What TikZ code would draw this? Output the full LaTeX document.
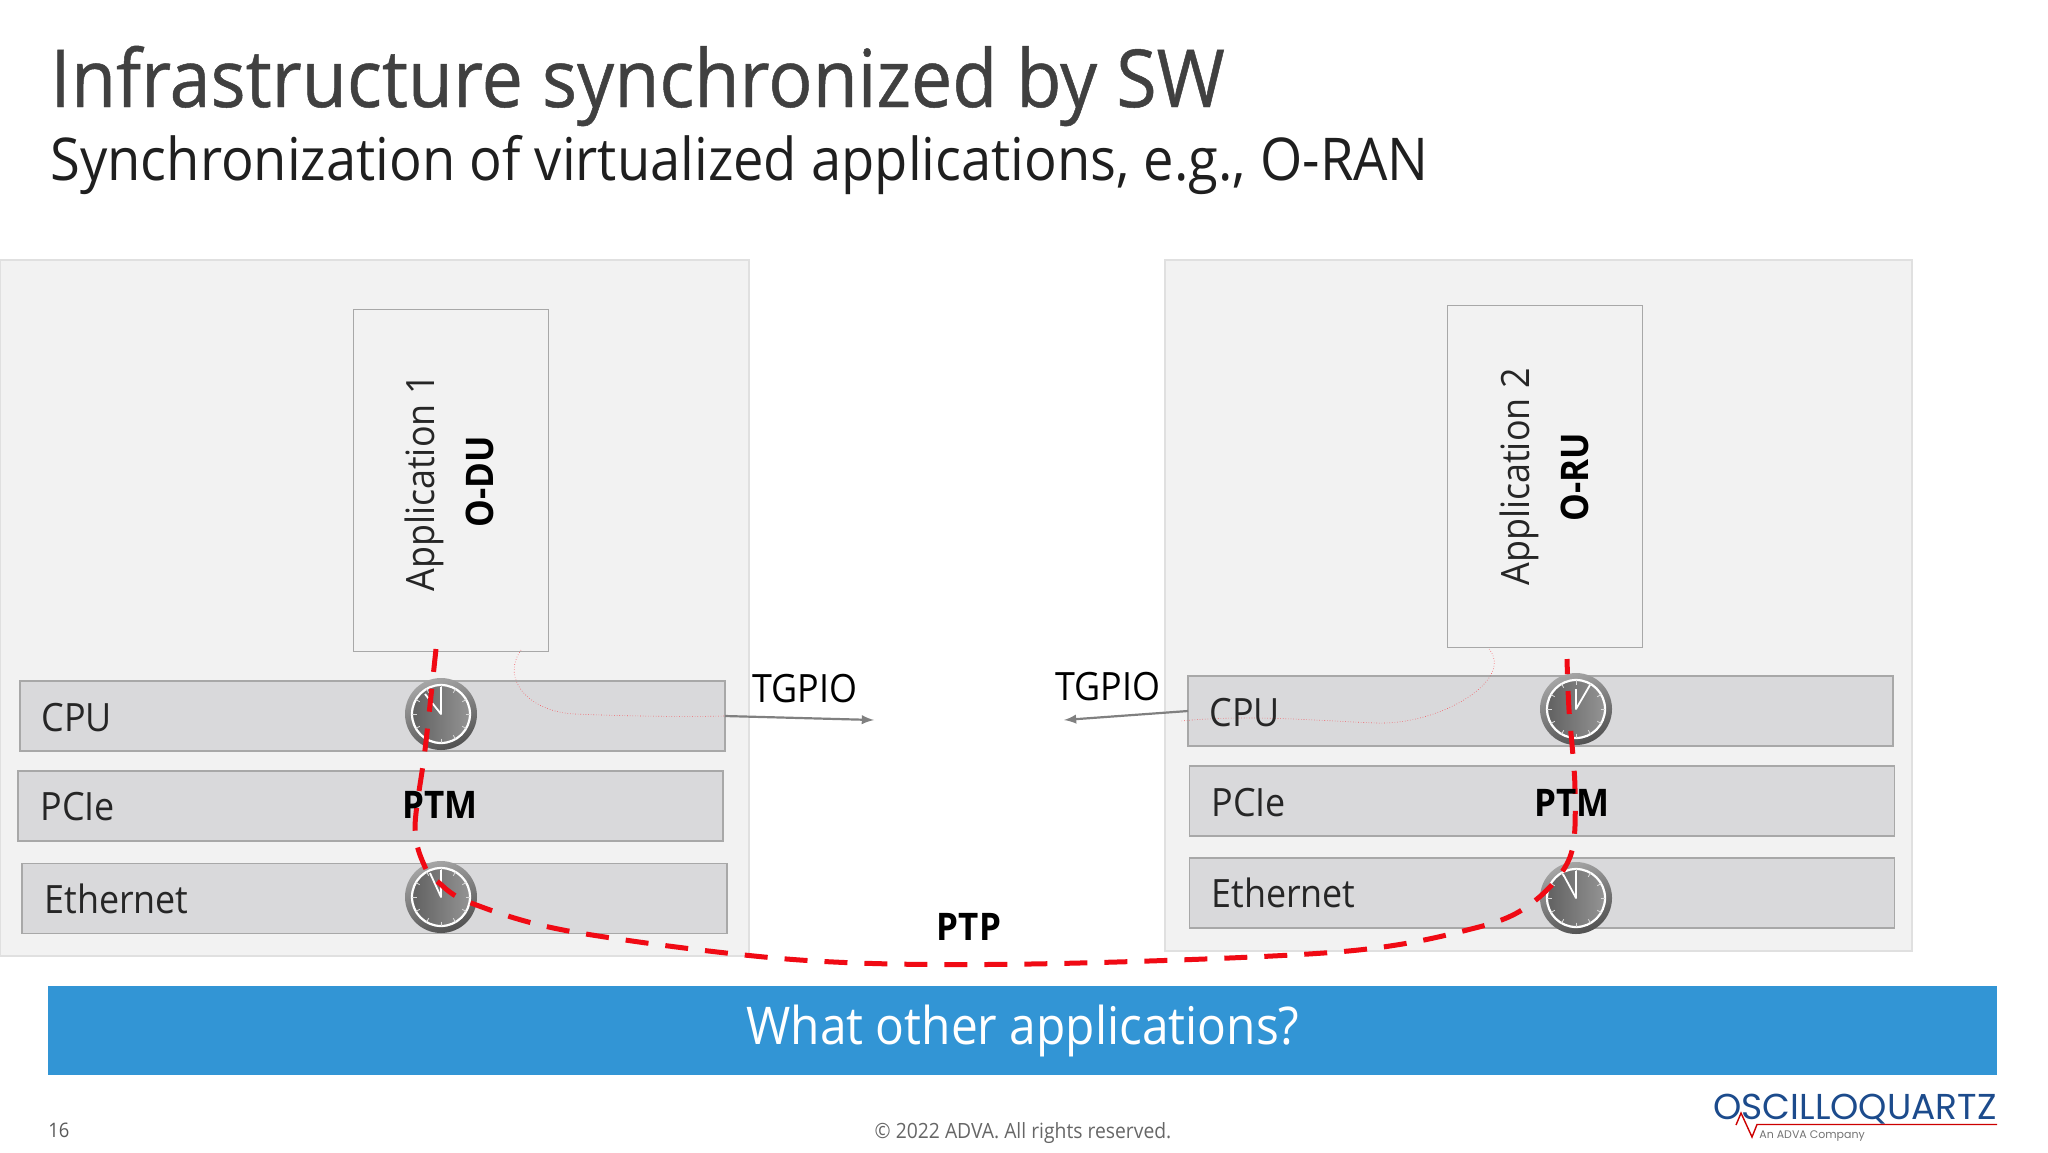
\documentclass[tikz,border=0pt]{standalone}
\usepackage{fontspec}
\setmainfont[FakeStretch=0.92]{Open Sans}
\newfontfamily\semibold[FakeStretch=0.92,FakeBold=0.6]{Open Sans}
\newfontfamily\logofont{Poppins}
\usetikzlibrary{positioning}
\definecolor{panelgray}{HTML}{F2F2F2}
\definecolor{bargray}{HTML}{D9D9DB}
\definecolor{edgegray}{HTML}{A8A8A8}
\definecolor{bannerblue}{HTML}{3295D5}
\definecolor{logoblue}{HTML}{1C4B8C}
\definecolor{ptpred}{HTML}{F00A14}
\tikzset{
    panel/.style={draw=black!12,fill=panelgray,line width=.6pt,inner sep=0pt,outer sep=0pt,
    minimum width=#1,minimum height=347pt},
    appbox/.style={draw=edgegray,fill=panelgray,line width=.5pt,inner sep=0pt,outer sep=0pt,
    minimum width=97.5pt,minimum height=171pt},
    barbox/.style={draw=edgegray,fill=bargray,line width=.7pt,inner sep=0pt,outer sep=0pt,
    minimum width=352.5pt,minimum height=35pt},
    barlabel/.style={anchor=base west,inner sep=0pt,font=\fontsize{19.5}{22}\selectfont,text=black!85},
    boldlabel/.style={anchor=base,inner sep=0pt,font=\fontsize{19}{22}\selectfont\bfseries},
    gpiolabel/.style={anchor=base west,inner sep=0pt,font=\fontsize{19.5}{22}\selectfont},
    applabel/.style={rotate=90,inner sep=0pt,font=\fontsize{19.5}{22}\selectfont,text=black!85},
    ptpline/.style={ptpred,line width=2.5pt,dash pattern=on 11.5pt off 8.5pt},
    tgpioarrow/.style={-latex,draw=black!50,line width=1.1pt},
    tgpioroute/.style={ptpred!70,line width=.3pt,densely dotted},
    clockface/.pic={
        \shade[left color=black!35,right color=black!68,shading angle=20] (0,0) circle (36);
        \shade[left color=black!62,right color=black!42] (0,0) circle (29);
        \draw[white,line width=1.1pt] (0,0) circle (29);
        \foreach \a in {0,30,...,330}
            \draw[white!85!black,line width=.4pt] (\a:24.5)--(\a:29);
        \draw[white,line width=.9pt,line join=round] #1;
    }
}
\begin{document}
\begin{tikzpicture}[x=.5pt,y=-.5pt]
    \useasboundingbox (0,0) rectangle (2048,1152);
    % title
    \node[anchor=base west,inner sep=0pt,text=black!75,font=\semibold\fontsize{40}{44}\selectfont] (title) at (50,107) {Infrastructure synchronized by SW};
    \node[anchor=base west,inner sep=0pt,text=black!88,font=\fontsize{29.5}{34}\selectfont] (subtitle) at (50,180) {Synchronization of virtualized applications, e.g., O-RAN};
    % panels
    \node[panel=374.5pt,anchor=north west,minimum height=348pt] (panelL) at (0,260) {};
    \node[panel=373.5pt,anchor=north west,minimum height=345.5pt] (panelR) at (1165,260) {};
    \node[appbox,anchor=north west] (appL) at (353,309.5) {};
    \node[appbox,anchor=north west] (appR) at (1447,305.5) {};
    % bars
    \node[barbox,anchor=north west] (cpuL) at (20,681) {};
    \node[barbox,anchor=north west] (pcieL) at (18,771) {};
    \node[barbox,anchor=north west] (ethL) at (22,863.5) {};
    \node[barbox,anchor=north west] (cpuR) at (1188,676) {};
    \node[barbox,anchor=north west] (pcieR) at (1189.5,766) {};
    \node[barbox,anchor=north west] (ethR) at (1189.5,858) {};
    % thin routes and arrows
    \coordinate (gpioL) at (521,650);
    \coordinate (gpioR) at (1489,649);
    \coordinate (tipL) at (874,720);
    \coordinate (tipR) at (1064,720);
    \draw[tgpioroute] (gpioL) .. controls (500,680) and (530,712) .. (575,714) .. controls (620,716) and (680,717) .. (cpuL.east);
    \draw[tgpioroute] (gpioR) .. controls (1515,680) and (1440,725) .. (1377,723) .. controls (1320,721) and (1250,714) .. (1181,721);
    \draw[tgpioarrow] (cpuL.east) -- (tipL);
    \draw[tgpioarrow] (cpuR.west) -- (tipR);
    % clocks
    \pic at (441,714) {clockface={(-16,-20)--(0,0)--(0,-27)}};
    \pic at (441,897) {clockface={(-11,-24)--(0,0)--(0,-27)}};
    \pic at (1576,709) {clockface={(14,-24)--(0,0)--(0,-20)}};
    \pic at (1576,898) {clockface={(-13,-24)--(0,0)--(0,-27)}};
    % ptp path
    \coordinate (ptpA) at (436,649);
    \coordinate (ptpB) at (425,750);
    \coordinate (ptpC) at (415,828);
    \coordinate (ptpD) at (425,867);
    \coordinate (ptpE) at (438,882);
    \coordinate (ptpF) at (471,903);
    \coordinate (ptpG) at (574,932);
    \coordinate (ptpH) at (800,960);
    \coordinate (ptpI) at (1030,964);
    \coordinate (ptpJ) at (1337,952);
    \coordinate (ptpK) at (1475,928);
    \coordinate (ptpL) at (1532,903);
    \coordinate (ptpM) at (1570,857);
    \coordinate (ptpN) at (1575,790);
    \coordinate (ptpO) at (1569,710);
    \coordinate (ptpP) at (1567,659);
    \draw[ptpline] plot[smooth,tension=.55] coordinates {(ptpA) (ptpB) (ptpC) (ptpD) (ptpE) (ptpF) (ptpG) (ptpH) (ptpI) (ptpJ) (ptpK) (ptpL) (ptpM) (ptpN) (ptpO) (ptpP)};
    % labels
    \node[barlabel] (cpuLtext) at (41,731) {CPU};
    \node[barlabel] (pcieLtext) at (40,820) {PCIe};
    \node[barlabel] (ethLtext) at (44,913) {Ethernet};
    \node[barlabel] (cpuRtext) at (1209,726) {CPU};
    \node[barlabel] (pcieRtext) at (1211,816) {PCIe};
    \node[barlabel] (ethRtext) at (1211,907) {Ethernet};
    \node[boldlabel] (ptmL) at (440,818) {PTM};
    \node[boldlabel] (ptmR) at (1572,816) {PTM};
    \node[boldlabel] (ptp) at (969,940) {PTP};
    \node[gpiolabel] (tgpioL) at (752,702) {TGPIO};
    \node[gpiolabel] (tgpioR) at (1055,700) {TGPIO};
    \node[applabel] (app1) at (424,483) {Application 1};
    \node[applabel,font=\fontsize{19}{22}\selectfont\bfseries,text=black] (odu) at (480,482) {O-DU};
    \node[applabel] (app2) at (1519,477) {Application 2};
    \node[applabel,font=\fontsize{19}{22}\selectfont\bfseries,text=black] (oru) at (1575,477) {O-RU};
    % banner
    \node[fill=bannerblue,text=white,inner sep=0pt,minimum width=974.5pt,minimum height=44.5pt,anchor=north west,font=\fontsize{26}{30}\selectfont] (banner) at (48,986) {What other applications?};
    % footer
    \node[anchor=base west,inner sep=0pt,text=black!65,font=\fontsize{10}{12}\selectfont] (page) at (48,1137) {16};
    \node[anchor=base,inner sep=0pt,text=black!60,font=\fontsize{10.5}{12}\selectfont] (copy) at (1023,1138) {© 2022 ADVA. All rights reserved.};
    % logo
    \node[anchor=base east,inner sep=0pt,text=logoblue,font=\logofont\fontsize{18}{20}\selectfont] (logo) at (1997,1119) {OSCILLOQUARTZ};
    \coordinate (pulseA) at (1736,1125);
    \coordinate (pulseB) at (1741,1113);
    \coordinate (pulseC) at (1752,1137);
    \coordinate (pulseD) at (1757,1124.5);
    \coordinate (pulseE) at (1997,1124.5);
    \draw[red!80!black,line width=.7pt] (pulseA)--(pulseB)--(pulseC)--(pulseD)--(pulseE);
    \node[anchor=base west,inner sep=0pt,text=black!55,font=\logofont\fontsize{5.5}{6}\selectfont] (company) at (1759,1138) {An ADVA Company};
\end{tikzpicture}
\end{document}
